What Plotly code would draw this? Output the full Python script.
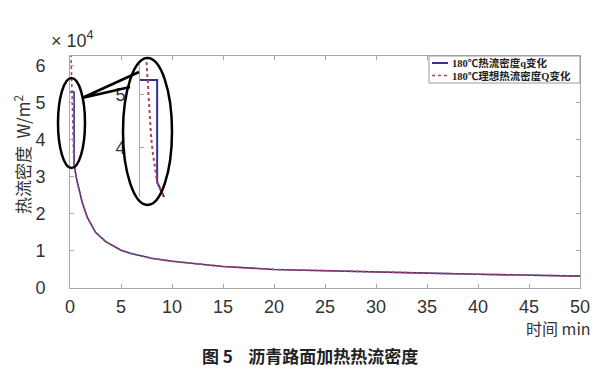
import plotly.graph_objects as go

# ---------------- data (heat flux in units of 10^4 W/m^2, time in min) ----------------
t_q = [0, 0.4, 0.4, 0.6, 0.85, 1.2, 1.7, 2.5, 3.5, 5, 6, 8, 10, 12.5, 15, 20, 25, 30, 35, 40, 45, 50]
q_vals = [5.28, 5.28, 3.35, 3.0, 2.7, 2.3, 1.9, 1.5, 1.25, 1.02, 0.93, 0.8, 0.72, 0.64, 0.58, 0.5, 0.46, 0.43, 0.40, 0.37, 0.35, 0.32]

t_Q = [0.1, 0.14, 0.18, 0.22, 0.26, 0.3, 0.35, 0.4, 0.6, 0.85, 1.2, 1.7, 2.5, 3.5, 5, 6, 8, 10, 12.5, 15, 20, 25, 30, 35, 40, 45, 50]
Q_vals = [6.3, 5.75, 5.1, 4.6, 4.2, 3.9, 3.6, 3.35, 3.0, 2.7, 2.3, 1.9, 1.5, 1.25, 1.02, 0.93, 0.8, 0.72, 0.64, 0.58, 0.5, 0.46, 0.43, 0.40, 0.37, 0.35, 0.32]

x_ticks = [0, 5, 10, 15, 20, 25, 30, 35, 40, 45, 50]
y_ticks = [0, 1, 2, 3, 4, 5, 6]
inset_ticks = [4, 5]

name_q = "180℃热流密度q变化"
name_Q = "180℃理想热流密度Q变化"

# ---------------- layout helpers (page pixel -> paper) ----------------
# page has an 8px body margin, so the figure is drawn 8px in from the top-left
OFF = 8
W, H = 611 - OFF, 374 - OFF
PL, PR, PT, PB = 70, 580, 56, 288          # plot area in page pixels
L, R, T, B = PL - OFF, (W + OFF) - PR, PT - OFF, (H + OFF) - PB
PW, PH = PR - PL, PB - PT

def px(x):
    return (x - PL) / PW

def py(y):
    return (PB - y) / PH

BLUE = "#34348f"
RED = "#b24060"
TICKC = "#333333"
AXC = "#a8a8a8"
NUM_FONT = "Liberation Sans"
CJK_FONT = "Noto Sans CJK SC"
LEG_FONT = "Liberation Serif, Noto Sans CJK SC"

fig = go.Figure()

# main traces
fig.add_trace(go.Scatter(x=t_q, y=q_vals, mode="lines", name=name_q,
                         line=dict(color=BLUE, width=1.6)))
fig.add_trace(go.Scatter(x=t_Q, y=Q_vals, mode="lines", name=name_Q,
                         line=dict(color=RED, width=1.6, dash="dot")))

# inset traces (magnified)
fig.add_trace(go.Scatter(x=t_q, y=q_vals, mode="lines", showlegend=False,
                         xaxis="x2", yaxis="y2", line=dict(color=BLUE, width=2)))
fig.add_trace(go.Scatter(x=t_Q, y=Q_vals, mode="lines", showlegend=False,
                         xaxis="x2", yaxis="y2", line=dict(color=RED, width=2, dash="dot")))

axis_common = dict(showgrid=False, zeroline=False, showline=True, linecolor=AXC,
                   linewidth=1, ticks="inside", ticklen=4, tickcolor=AXC,
                   mirror="ticks", tickfont=dict(family=NUM_FONT, size=18, color=TICKC))

fig.update_layout(
    width=W, height=H,
    margin=dict(l=L, r=R, t=T, b=B, autoexpand=False),
    paper_bgcolor="white", plot_bgcolor="white",
    xaxis=dict(range=[0, 50], tickvals=x_ticks, ticklabelstandoff=2, **axis_common),
    yaxis=dict(range=[0, 6.25], tickvals=y_ticks, ticklabelstandoff=20, **axis_common),
    xaxis2=dict(domain=[px(140), px(170)], range=[0, 0.7], anchor="y2",
                visible=False),
    yaxis2=dict(domain=[py(197), py(60)], range=[3.07, 5.66], anchor="x2",
                showgrid=False, zeroline=False, showline=True, linecolor=AXC,
                linewidth=1, ticks="inside", ticklen=4, tickcolor=AXC,
                tickvals=inset_ticks, ticklabelstandoff=10,
                tickfont=dict(family=NUM_FONT, size=18, color=TICKC)),
    showlegend=False,
)

# ellipses and callout
fig.add_shape(type="circle", xref="paper", yref="paper",
              x0=px(58), x1=px(85), y0=py(168), y1=py(78),
              line=dict(color="black", width=2.5))
fig.add_shape(type="circle", xref="paper", yref="paper",
              x0=px(123), x1=px(172), y0=py(205), y1=py(58),
              line=dict(color="black", width=2.5))
fig.add_shape(type="path", xref="paper", yref="paper",
              path=f"M {px(139)},{py(72)} L {px(82)},{py(98)} L {px(130)},{py(87)}",
              line=dict(color="black", width=2.5))

# legend (drawn box, samples and labels)
fig.add_shape(type="rect", xref="paper", yref="paper",
              x0=px(429), x1=px(580), y0=py(83), y1=py(56),
              line=dict(color="#999999", width=1), fillcolor="white")
fig.add_shape(type="line", xref="paper", yref="paper",
              x0=px(432), x1=px(448), y0=py(63), y1=py(63),
              line=dict(color=BLUE, width=2))
fig.add_shape(type="line", xref="paper", yref="paper",
              x0=px(432), x1=px(448), y0=py(75.5), y1=py(75.5),
              line=dict(color=RED, width=1.5, dash="dot"))
for label, yy in [(name_q, 63), (name_Q, 75.5)]:
    fig.add_annotation(xref="paper", yref="paper", x=px(450), y=py(yy),
                       xanchor="left", yanchor="middle", text=f"<b>{label}</b>",
                       showarrow=False,
                       font=dict(family=LEG_FONT, size=10.5, color="#222222"))

# annotations
fig.add_annotation(xref="paper", yref="paper", x=px(72), y=py(39),
                   xanchor="center", yanchor="middle",
                   text="× 10<sup>4</sup>", showarrow=False,
                   font=dict(family=NUM_FONT, size=18, color=TICKC))
fig.add_annotation(xref="paper", yref="paper", x=px(22), y=py(155),
                   xanchor="center", yanchor="middle",
                   text="热流密度  W/m<sup>2</sup>", textangle=-90, showarrow=False,
                   font=dict(family=CJK_FONT, size=17, color=TICKC))
fig.add_annotation(xref="paper", yref="paper", x=px(593), y=py(328),
                   xanchor="right", yanchor="middle", text="时间 min", showarrow=False,
                   font=dict(family=CJK_FONT, size=16, color=TICKC))
fig.add_annotation(xref="paper", yref="paper", x=px(310), y=py(355),
                   xanchor="center", yanchor="middle",
                   text="<b>图 5    沥青路面加热热流密度</b>", showarrow=False,
                   font=dict(family=CJK_FONT, size=17, color="#222222"))

fig.write_html("out.html")
